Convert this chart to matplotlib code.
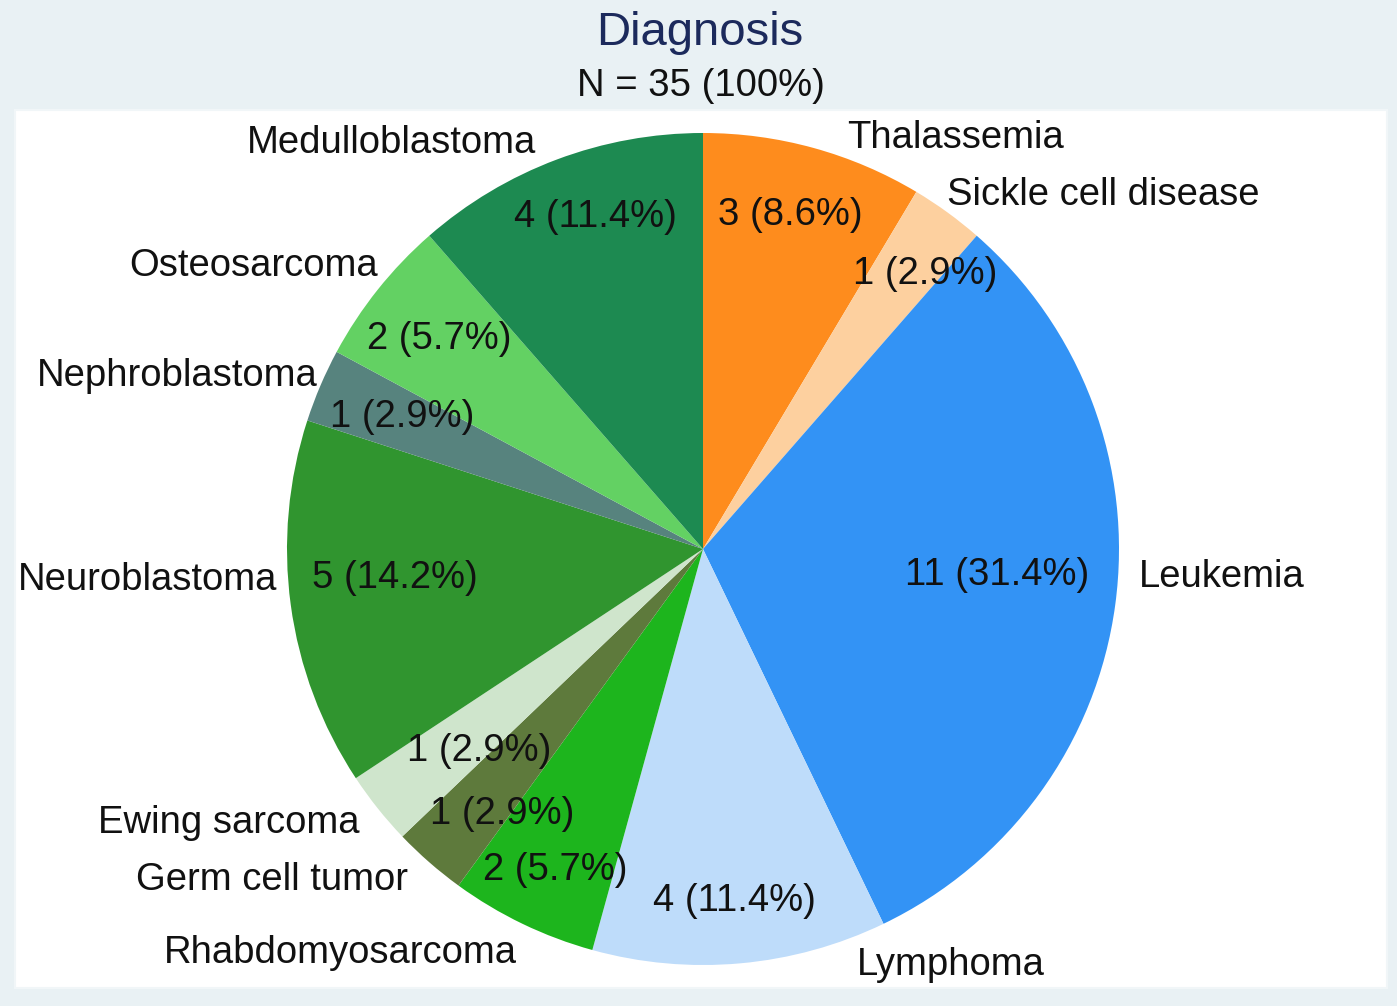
import numpy as np
import matplotlib
matplotlib.use("Agg")
import matplotlib.pyplot as plt
from matplotlib.patches import Rectangle

plt.rcParams['font.family'] = ['Liberation Sans', 'DejaVu Sans']

# data
diagnoses = ["Thalassemia", "Sickle cell disease", "Leukemia", "Lymphoma",
             "Rhabdomyosarcoma", "Germ cell tumor", "Ewing sarcoma",
             "Neuroblastoma", "Nephroblastoma", "Osteosarcoma", "Medulloblastoma"]
counts = [3, 1, 11, 4, 2, 1, 1, 5, 1, 2, 4]
pct_text = ["8.6%", "2.9%", "31.4%", "11.4%", "5.7%", "2.9%", "2.9%",
            "14.2%", "2.9%", "5.7%", "11.4%"]
colors = ["#fe8c1d", "#fdd09f", "#3393f5", "#bedcfa", "#1db51d", "#5e7a3c",
          "#cfe5cc", "#30952f", "#57837e", "#63d163", "#1d8a51"]

# layout (pixel space)
W, H = 1397, 1006
cx, cy, R = 703, 549, 416
inner_r = [0.83, 0.85, 0.71, 0.85, 0.85, 0.80, 0.725, 0.745, 0.79, 0.81, 0.84]
inner_shift = [-0.8, 3, -2.7, 0, -1, -4, -3.4, 2.4, 0.5, 0, 2.6]  # deg, clockwise
outer_pos = [(955, 135), (1103, 192), (1222, 574), (951, 962), (340, 950),
             (272, 877), (229, 820), (148, 577), (177, 373), (254, 263),
             (391, 140)]
dy_txt = 3

fig = plt.figure(figsize=(W / 100, H / 100), dpi=100)
fig.patch.set_facecolor("#e9f1f4")
ax = fig.add_axes([0, 0, 1, 1])
ax.set_facecolor("none")

ax.add_patch(Rectangle((15, H - 988), 1372, 878, facecolor="white",
                       edgecolor="#f1f6f8", linewidth=1.5, zorder=0))

wedges, _ = ax.pie(counts, colors=colors, startangle=90, counterclock=False,
                   center=(cx, H - cy), radius=R,
                   wedgeprops=dict(linewidth=0))

for w, n, p, f, s, name, pos in zip(wedges, counts, pct_text, inner_r, inner_shift,
                                    diagnoses, outer_pos):
    mid = np.deg2rad((w.theta1 + w.theta2) / 2 - s)
    x = cx + f * R * np.cos(mid)
    y = (H - cy) + f * R * np.sin(mid)
    ax.text(x, y, f"{n} ({p})", fontsize=27.5, ha="center", va="center", color="#111111")
    ax.text(pos[0], H - pos[1] - dy_txt, name, fontsize=27.5, ha="center", va="center",
            color="#111111")

ax.text(700, H - 30 - dy_txt, "Diagnosis", fontsize=34, ha="center", va="center", color="#1c2a5c")
ax.text(701, H - 83 - dy_txt, "N = 35 (100%)", fontsize=27.5, ha="center", va="center",
        color="#111111")

ax.set_xlim(0, W)
ax.set_ylim(0, H)
ax.set_aspect("auto")
ax.axis("off")

fig.savefig("out.png", dpi=100, facecolor=fig.get_facecolor())
